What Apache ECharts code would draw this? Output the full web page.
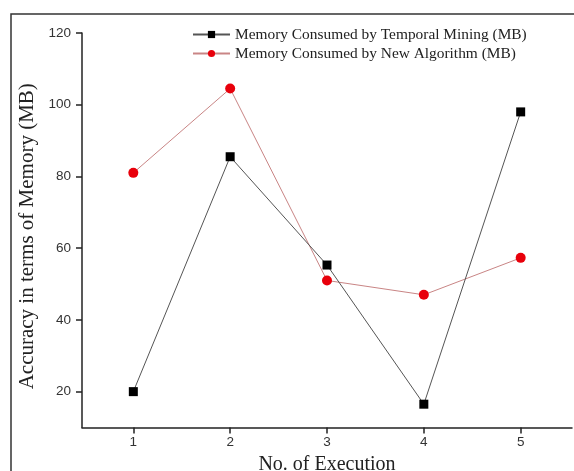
<!DOCTYPE html>
<html>
<head>
    <meta charset="UTF-8">
    <title>Memory Consumed</title>
    <script src="https://cdn.jsdelivr.net/npm/echarts/dist/echarts.min.js"></script>
    <style>
    html, body { margin: 0; padding: 0; background: #fff; }
    #chart { width: 574px; height: 471px; }
  </style>
</head>
<body>
<div id="chart"></div>
<script>
    // data
    var executions = [1, 2, 3, 4, 5];
    var temporalMining = [20, 85.5, 55.3, 16.5, 98];
    var newAlgorithm = [81, 104.5, 51, 47, 57.3];
    var yTicks = [20, 40, 60, 80, 100, 120];
    var seriesNames = ['Memory Consumed by Temporal Mining (MB)', 'Memory Consumed by New Algorithm (MB)'];

    function pairs(xs, ys) {
      return xs.map(function (x, i) { return [x, ys[i]]; });
    }

    var chart = echarts.init(document.getElementById('chart'));

    var axisCommon = {
      axisLine: { show: true, lineStyle: { color: '#222', width: 1.5 } },
      splitLine: { show: false },
      nameLocation: 'middle'
    };

    var option = {
      animation: false,
      backgroundColor: '#fff',
      graphic: [{
        type: 'rect',
        shape: { x: 11, y: 14, width: 600, height: 500 },
        style: { fill: 'none', stroke: '#333', lineWidth: 1.5 },
        silent: true
      }],
      grid: { left: 82, right: 2, top: 33, bottom: 43.5, containLabel: false, outerBoundsMode: 'none' },
      legend: {
        orient: 'vertical',
        left: 187,
        top: 22,
        itemGap: 4,
        itemWidth: 37,
        itemHeight: 9,
        textStyle: { fontFamily: 'Liberation Serif', fontSize: 15.4, color: '#222' },
        data: seriesNames
      },
      xAxis: Object.assign({}, axisCommon, {
        type: 'value',
        min: 0.47,
        max: 5.53,
        name: 'No. of Execution',
        nameGap: 20,
        nameTextStyle: { fontFamily: 'Liberation Serif', fontSize: 20, color: '#222' },
        axisTick: { show: true, length: 6, customValues: executions, lineStyle: { color: '#222', width: 1.5 } },
        axisLabel: { customValues: executions, fontFamily: 'Liberation Sans', fontSize: 13.5, color: '#333', margin: 8 }
      }),
      yAxis: Object.assign({}, axisCommon, {
        type: 'value',
        min: 10,
        max: 120,
        name: 'Accuracy in terms of Memory (MB)',
        nameGap: 42,
        nameTextStyle: { fontFamily: 'Liberation Serif', fontSize: 21, color: '#222', padding: [0, 12, 0, 0] },
        axisTick: { show: true, length: 6, customValues: yTicks, lineStyle: { color: '#222', width: 1.5 } },
        axisLabel: { customValues: yTicks, fontFamily: 'Liberation Sans', fontSize: 13.5, color: '#333', margin: 11 }
      }),
      series: [
        {
          name: seriesNames[0],
          type: 'line',
          data: pairs(executions, temporalMining),
          symbol: 'rect',
          symbolSize: 9,
          itemStyle: { color: '#000' },
          lineStyle: { color: '#555', width: 1 },
          z: 3
        },
        {
          name: seriesNames[1],
          type: 'line',
          data: pairs(executions, newAlgorithm),
          symbol: 'circle',
          symbolSize: 10,
          itemStyle: { color: '#e8000b' },
          lineStyle: { color: '#c98585', width: 1 },
          z: 2
        }
      ]
    };
    chart.setOption(option);
  </script>
</body>
</html>
